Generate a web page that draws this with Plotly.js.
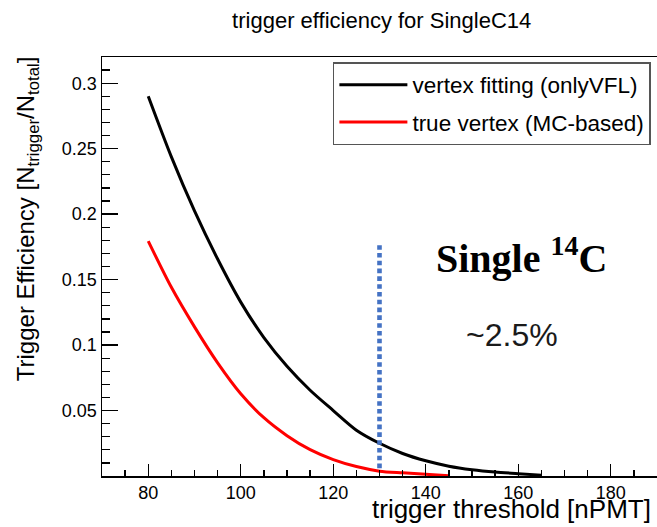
<!DOCTYPE html>
<html>
<head>
<meta charset="utf-8">
<script src="https://cdn.plot.ly/plotly-3.0.1.min.js"></script>
<style>html,body{margin:0;padding:0;background:#fff;}</style>
</head>
<body>
<div id="chart" style="width:657px;height:527px;"></div>
<script>
// ---- data ----
const thresholdVFL = [80, 85, 90, 95, 100, 105, 110, 115, 120, 125, 130, 135, 140, 145, 150, 155, 160, 165];
const effVFL = [0.290, 0.2437, 0.2024, 0.1657, 0.1328, 0.1057, 0.0838, 0.0655, 0.0500, 0.0350, 0.0250, 0.0172, 0.0116, 0.0075, 0.0048, 0.0030, 0.0018, 0.0006];

const thresholdMC = [80, 85, 90, 95, 100, 105, 110, 115, 120, 125, 130, 135, 140, 145];
const effMC = [0.1794, 0.1441, 0.1139, 0.0864, 0.0628, 0.0445, 0.0308, 0.0201, 0.0125, 0.0072, 0.0037, 0.0024, 0.0013, 0.0002];

const cutX = [130, 130];
const cutY = [0.006, 0.178];

const xTickVals = [80, 100, 120, 140, 160, 180];
const xTickText = ['80', '100', '120', '140', '160', '180'];
const yTickVals = [0.05, 0.1, 0.15, 0.2, 0.25, 0.3];
const yTickText = ['0.05', '0.1', '0.15', '0.2', '0.25', '0.3'];

const seriesNames = ['vertex fitting (onlyVFL)', 'true vertex (MC-based)'];

// ---- traces ----
const traces = [
  {
    x: thresholdVFL, y: effVFL, type: 'scatter', mode: 'lines',
    name: seriesNames[0], legendgroup: 'a',
    line: {color: '#000000', width: 3, shape: 'spline', smoothing: 0.8}
  },
  {
    x: thresholdMC, y: effMC, type: 'scatter', mode: 'lines',
    name: seriesNames[1], legendgroup: 'b',
    line: {color: '#ff0000', width: 3, shape: 'spline', smoothing: 0.8}
  },
  {
    x: cutX, y: cutY, type: 'scatter', mode: 'lines',
    showlegend: false, hoverinfo: 'skip',
    line: {color: '#4472C4', width: 4.6, dash: '4.6px,3.2px'}
  }
];

const FONT = 'Liberation Sans, Arial, Helvetica, sans-serif';

const layout = {
  width: 657, height: 527,
  margin: {l: 102, r: 0, t: 57, b: 51, pad: 0},
  paper_bgcolor: '#ffffff', plot_bgcolor: '#ffffff',
  font: {family: FONT, color: '#000000', size: 18},
  showlegend: true,
  title: {
    text: 'trigger efficiency for SingleC14',
    font: {family: FONT, size: 22, color: '#000000'},
    xref: 'container', yref: 'container',
    x: 0.581, xanchor: 'center', y: 0.962, yanchor: 'middle'
  },
  xaxis: {
    range: [70, 190],
    tickmode: 'array', tickvals: xTickVals, ticktext: xTickText,
    ticks: 'inside', ticklen: 12, tickwidth: 1.3, tickcolor: '#000',
    showline: true, linecolor: '#000', linewidth: 1.5, mirror: true,
    showgrid: false, zeroline: false,
    tickfont: {family: FONT, size: 18, color: '#000'},
    minor: {ticks: 'inside', ticklen: 6, tickwidth: 1.3, tickcolor: '#000', tick0: 0, dtick: 5, showgrid: false}
  },
  yaxis: {
    range: [0, 0.32],
    tickmode: 'array', tickvals: yTickVals, ticktext: yTickText,
    ticks: 'inside', ticklen: 16, tickwidth: 1.3, tickcolor: '#000',
    showline: true, linecolor: '#000', linewidth: 1.5, mirror: false,
    showgrid: false, zeroline: false,
    tickfont: {family: FONT, size: 18, color: '#000'},
    minor: {ticks: 'inside', ticklen: 8, tickwidth: 1.3, tickcolor: '#000', tick0: 0, dtick: 0.01, showgrid: false}
  },
  legend: {
    x: 0.416, y: 0.988, xanchor: 'left', yanchor: 'top',
    bgcolor: '#ffffff', bordercolor: '#555555', borderwidth: 1.5,
    font: {family: FONT, size: 22.5, color: '#000'},
    itemwidth: 68, traceorder: 'grouped', tracegroupgap: 5
  },
  annotations: [
    {
      text: 'trigger threshold [nPMT]', xref: 'paper', yref: 'paper',
      x: 1, y: -0.119, xanchor: 'right', yanchor: 'bottom', xshift: -4,
      showarrow: false, font: {family: FONT, size: 26, color: '#000'}
    },
    {
      text: 'Trigger Efficiency [N<sub>trigger</sub>/N<sub>total</sub>]',
      xref: 'paper', yref: 'paper', x: -0.135, y: 0.613,
      xanchor: 'center', yanchor: 'middle', textangle: -90,
      showarrow: false, font: {family: FONT, size: 24, color: '#000'}
    },
    {
      text: '<b>Single <sup>14</sup>C</b>', xref: 'paper', yref: 'paper',
      x: 0.755, y: 0.526, xanchor: 'center', yanchor: 'middle',
      showarrow: false, font: {family: 'Liberation Serif, Times New Roman, serif', size: 40, color: '#000'}
    },
    {
      text: '~2.5%', xref: 'paper', yref: 'paper',
      x: 0.738, y: 0.336, xanchor: 'center', yanchor: 'middle',
      showarrow: false, font: {family: FONT, size: 32, color: '#1a1a1a'}
    }
  ]
};

Plotly.newPlot('chart', traces, layout, {staticPlot: true, displayModeBar: false});
</script>
</body>
</html>
